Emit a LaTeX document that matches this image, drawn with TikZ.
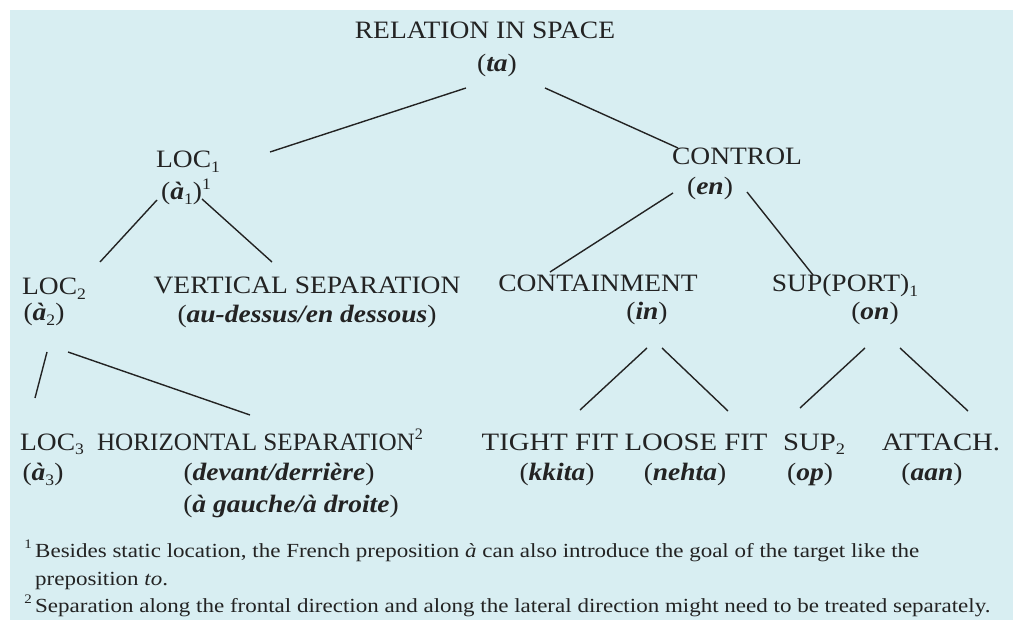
\documentclass[tikz,border=0pt]{standalone}
\usepackage{fontspec}
\usepackage{graphicx}
\setmainfont{Liberation Serif}
\newfontfamily\labfont[FakeStretch=1.1]{Liberation Serif}
\newfontfamily\botfont[FakeStretch=1.15]{Liberation Serif}
\newfontfamily\fnfont[FakeStretch=1.15]{Liberation Serif}
\usetikzlibrary{calc}
\newcommand\BI[1]{\textbf{\textit{#1}}}
\newcommand\gl[1]{(\BI{#1})}
\newcommand\sub[1]{\raisebox{-0.2em}{\fontsize{16}{16}\selectfont#1}}
\newcommand\sups[1]{\raisebox{0.42em}{\fontsize{16}{16}\selectfont#1}}
\definecolor{paper_blue}{RGB}{216,238,242}
\definecolor{ink_gray}{RGB}{35,35,35}

\begin{document}
\begin{tikzpicture}[x=1pt,y=-1pt]
    \tikzstyle{lab}=[anchor=base, inner sep=0pt, text=ink_gray, font=\labfont\fontsize{25}{28}\selectfont]
    \tikzstyle{bot}=[style=lab, font=\botfont\fontsize{25}{28}\selectfont]
    \tikzstyle{fn}=[anchor=base west, inner sep=0pt, text=ink_gray, font=\fnfont\fontsize{20}{22}\selectfont]
    \tikzstyle{branch}=[draw=ink_gray, line width=1.4pt]

    \useasboundingbox (0,0) rectangle (1013,620);
    \fill[paper_blue] (10,10) rectangle (1013,620);

    % top and second tier
    \node[lab] (rel)     at (485,39)  {RELATION IN SPACE};
    \node[lab] (ta)      at (497,72)  {\gl{ta}};
    \node[lab] (loc1)    at (188,168) {LOC\sub{1}};
    \node[lab] (a1)      at (186,200) {(\BI{à}\sub{1})\sups{1}};
    \node[lab] (control) at (737,165) {CONTROL};
    \node[lab] (en)      at (710,195) {\gl{en}};

    % third tier
    \node[lab] (loc2)     at (54,295)  {LOC\sub{2}};
    \node[lab] (a2)       at (44,321)  {(\BI{à}\sub{2})};
    \node[lab] (vert)     at (307,294) {VERTICAL SEPARATION};
    \node[lab] (audessus) at (307,323) {\gl{au-dessus/en dessous}};
    \node[lab] (contain)  at (598,292) {CONTAINMENT};
    \node[lab] (in)       at (647,320) {\gl{in}};
    \node[lab] (sup)      at (845,292) {SUP(PORT)\sub{1}};
    \node[lab] (on)       at (875,320) {\gl{on}};

    % bottom tier
    \node[lab] (loc3)   at (52,450)  {LOC\sub{3}};
    \node[lab] (a3)     at (43,481)  {(\BI{à}\sub{3})};
    \node[lab] (horiz)  at (260,450) {\scalebox{0.915}[1]{HORIZONTAL SEPARATION\sups{2}}};
    \node[lab] (devant) at (279,481) {\gl{devant/derrière}};
    \node[lab] (gauche) at (291,512) {\gl{à gauche/à droite}};
    \node[bot] (tight)  at (550,450) {TIGHT FIT};
    \node[lab] (kkita)  at (557,481) {\gl{kkita}};
    \node[bot] (loose)  at (696,450) {LOOSE FIT};
    \node[lab] (nehta)  at (685,481) {\gl{nehta}};
    \node[bot] (suptwo) at (814,450) {SUP\sub{2}};
    \node[lab] (op)     at (810,481) {\gl{op}};
    \node[bot] (attach) at (941,450) {ATTACH.};
    \node[lab] (aan)    at (932,481) {\gl{aan}};

    \path
     ($(ta.base)+(-31,16)$) edge[branch] ($(loc1.base)+(82,-16)$)
     ($(ta.base)+(48,16)$)  edge[branch] ($(control.base)+(-59,-17)$)
     ($(a1.base)+(-29,0)$)  edge[branch] ($(loc2.base)+(46,-33)$)
     ($(a1.base)+(16,-1)$)  edge[branch] ($(vert.base)+(-35,-32)$)
     ($(en.base)+(-37,-2)$) edge[branch] ($(contain.base)+(-48,-20)$)
     ($(en.base)+(37,-3)$)  edge[branch] ($(sup.base)+(-32,-17)$)
     ($(a2.base)+(3,31)$)   edge[branch] ($(loc3.base)+(-17,-52)$)
     ($(a2.base)+(24,31)$)  edge[branch] ($(horiz.base)+(-10,-35)$)
     ($(in.base)+(0,28)$)   edge[branch] ($(tight.base)+(30,-40)$)
     ($(in.base)+(15,28)$)  edge[branch] ($(loose.base)+(32,-39)$)
     ($(on.base)+(-10,28)$) edge[branch] ($(suptwo.base)+(-14,-42)$)
     ($(on.base)+(25,28)$)  edge[branch] ($(attach.base)+(27,-39)$)
     ;

    % footnotes
    \node[fn] (fn1)  at (35,557) {\llap{\sups{\fontsize{13}{13}\selectfont 1}\,}Besides static location, the French preposition \textit{à} can also introduce the goal of the target like the};
    \node[fn] (fn1b) at (35,585) {preposition \textit{to}.};
    \node[fn] (fn2)  at (35,612) {\llap{\sups{\fontsize{13}{13}\selectfont 2}\,}Separation along the frontal direction and along the lateral direction might need to be treated separately.};
\end{tikzpicture}
\end{document}
